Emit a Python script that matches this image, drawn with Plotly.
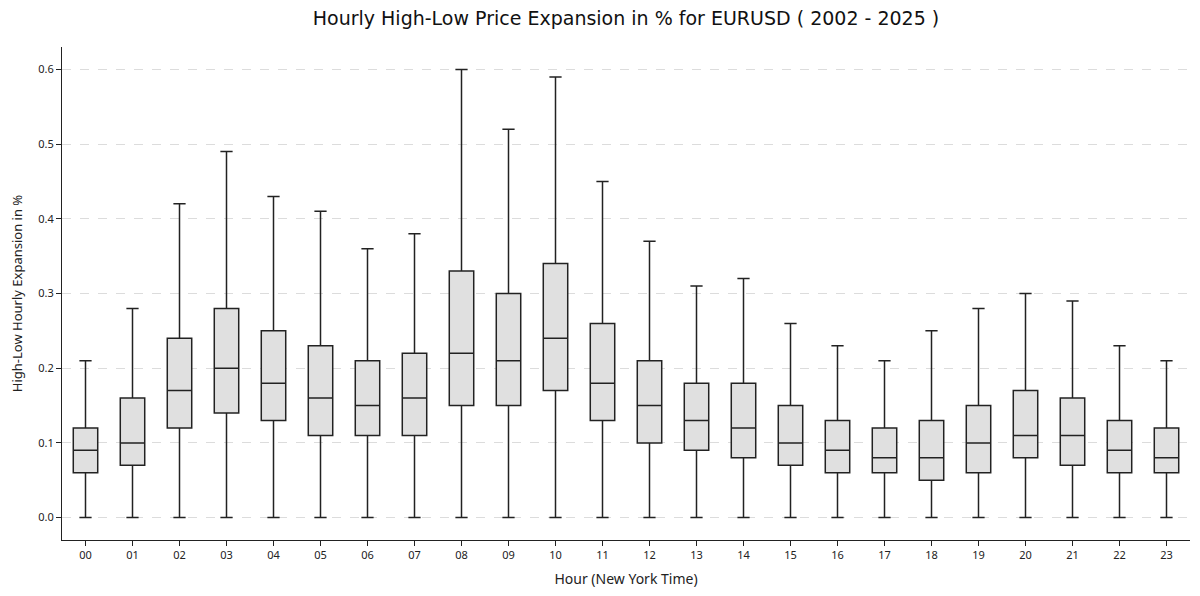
import plotly.graph_objects as go

hours = ["00", "01", "02", "03", "04", "05", "06", "07", "08", "09", "10", "11",
         "12", "13", "14", "15", "16", "17", "18", "19", "20", "21", "22", "23"]
q1 = [0.06, 0.07, 0.12, 0.14, 0.13, 0.11, 0.11, 0.11, 0.15, 0.15, 0.17, 0.13,
      0.10, 0.09, 0.08, 0.07, 0.06, 0.06, 0.05, 0.06, 0.08, 0.07, 0.06, 0.06]
median = [0.09, 0.10, 0.17, 0.20, 0.18, 0.16, 0.15, 0.16, 0.22, 0.21, 0.24, 0.18,
          0.15, 0.13, 0.12, 0.10, 0.09, 0.08, 0.08, 0.10, 0.11, 0.11, 0.09, 0.08]
q3 = [0.12, 0.16, 0.24, 0.28, 0.25, 0.23, 0.21, 0.22, 0.33, 0.30, 0.34, 0.26,
      0.21, 0.18, 0.18, 0.15, 0.13, 0.12, 0.13, 0.15, 0.17, 0.16, 0.13, 0.12]
whisker_low = [0.0] * 24
whisker_high = [0.21, 0.28, 0.42, 0.49, 0.43, 0.41, 0.36, 0.38, 0.60, 0.52, 0.59, 0.45,
                0.37, 0.31, 0.32, 0.26, 0.23, 0.21, 0.25, 0.28, 0.30, 0.29, 0.23, 0.21]

fig = go.Figure()
fig.add_trace(go.Box(
    x=hours,
    q1=q1, median=median, q3=q3,
    lowerfence=whisker_low, upperfence=whisker_high,
    boxpoints=False,
    fillcolor="#e0e0e0",
    line=dict(color="#222222", width=1.5),
    whiskerwidth=0.5,
    width=0.52,
    showlegend=False,
    hoverinfo="skip",
))

fig.update_layout(
    width=1200, height=596,
    margin=dict(l=54, r=18, t=39, b=64, autoexpand=False),
    paper_bgcolor="white", plot_bgcolor="white",
    title=dict(text="Hourly High-Low Price Expansion in % for EURUSD ( 2002 - 2025 )",
               x=0.515, xanchor="center", y=0.982, yanchor="middle",
               font=dict(family="DejaVu Sans", size=19, color="#111111"),
               automargin=False),
    font=dict(family="Noto Sans", size=11, color="#222222"),
)
fig.update_xaxes(
    type="category", categoryorder="array", categoryarray=hours,
    range=[-0.5, 23.5], automargin=False,
    showline=True, linecolor="#222222", linewidth=1,
    ticks="outside", ticklen=5, tickcolor="#222222",
    showgrid=False,
    title=dict(text="Hour (New York Time)", font=dict(size=14), standoff=12),
)
fig.update_yaxes(
    range=[-0.03, 0.63], automargin=False,
    tickvals=[0.0, 0.1, 0.2, 0.3, 0.4, 0.5, 0.6], tickformat=".1f",
    showline=True, linecolor="#222222", linewidth=1,
    ticks="outside", ticklen=5, tickcolor="#222222",
    showgrid=True, gridcolor="#dcdcdc", griddash="dash", gridwidth=1,
    zeroline=False,
    title=dict(text="High-Low Hourly Expansion in %", font=dict(size=13), standoff=22),
)

fig.write_html("out.html")
